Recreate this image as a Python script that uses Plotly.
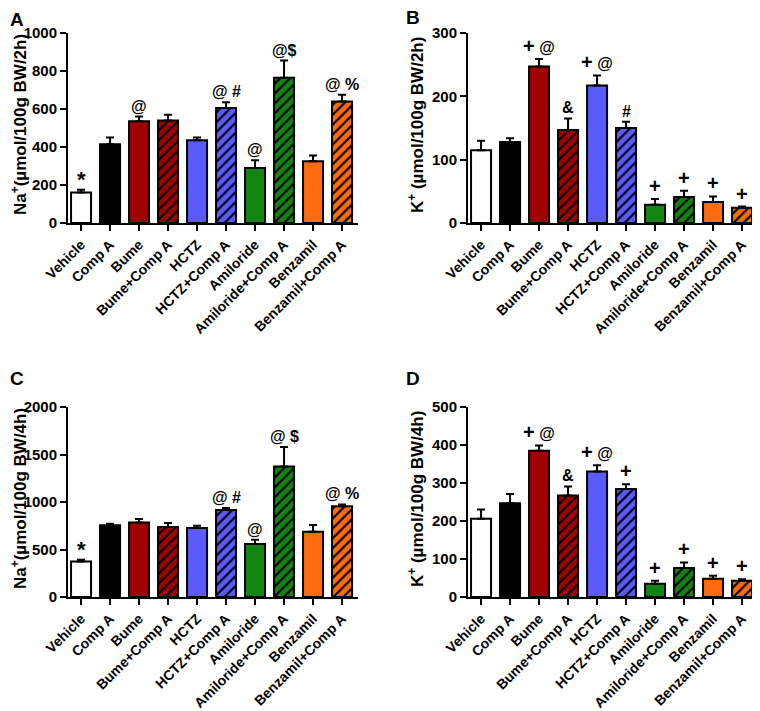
import plotly.graph_objects as go

categories = ["Vehicle", "Comp A", "Bume", "Bume+Comp A", "HCTZ", "HCTZ+Comp A",
              "Amiloride", "Amiloride+Comp A", "Benzamil", "Benzamil+Comp A"]

na_2h = [160, 415, 535, 540, 435, 605, 290, 765, 325, 640]
na_2h_sem = [15, 35, 25, 30, 15, 30, 40, 90, 30, 35]
k_2h = [115, 128, 247, 147, 217, 150, 29, 41, 33, 24]
k_2h_sem = [15, 6, 12, 18, 16, 10, 9, 10, 9, 2]
na_4h = [375, 754, 785, 737, 726, 916, 558, 1375, 687, 954]
na_4h_sem = [18, 17, 36, 42, 24, 21, 45, 204, 71, 21]
k_4h = [206, 247, 385, 267, 330, 284, 35, 76, 48, 43]
k_4h_sem = [24, 24, 14, 24, 17, 13, 8, 15, 8, 4]

sig_a = ["*", "", "@", "", "", "@ #", "@", "@$", "", "@ %"]
sig_b = ["", "", "+ @", "&", "+ @", "#", "+", "+", "+", "+"]
sig_c = ["*", "", "", "", "", "@ #", "@", "@ $", "", "@ %"]
sig_d = ["", "", "+ @", "&", "+ @", "+", "+", "+", "+", "+"]

colors = ["#ffffff", "#000000", "#a00000", "#a00000", "#5a5aff", "#5a5aff",
          "#128412", "#128412", "#ff6a0a", "#ff6a0a"]
hatch = ["", "", "", "/", "", "/", "", "/", "", "/"]

# page body has an 8px default margin; figure sized to fill the window
OFF = 8
W, H = 760 - OFF, 711 - OFF
FONT = "Arial, Liberation Sans, sans-serif"


def px_x(p):
    return (p - OFF) / W


def px_y(p):
    return (H - (p - OFF)) / H


def sym_html(s):
    return s.replace("+", '<span style="font-size:20px">+</span>')


panels = [
    dict(vals=na_2h, sem=na_2h_sem, sig=sig_a, ymax=1000, dtick=200,
         x0=68, x1=358, ytop=33, ybot=223, letter="A", lx=8, ly=19,
         title="Na<sup>+</sup>(µmol/100g BW/2h)", tx=19),
    dict(vals=k_2h, sem=k_2h_sem, sig=sig_b, ymax=300, dtick=100,
         x0=468, x1=758, ytop=33, ybot=223, letter="B", lx=404, ly=18,
         title="K<sup>+</sup> (µmol/100g BW/2h)", tx=416),
    dict(vals=na_4h, sem=na_4h_sem, sig=sig_c, ymax=2000, dtick=500,
         x0=68, x1=358, ytop=407, ybot=597, letter="C", lx=8, ly=378,
         title="Na<sup>+</sup>(µmol/100g BW/4h)", tx=19),
    dict(vals=k_4h, sem=k_4h_sem, sig=sig_d, ymax=500, dtick=100,
         x0=468, x1=758, ytop=407, ybot=597, letter="D", lx=404, ly=378,
         title="K<sup>+</sup> (µmol/100g BW/4h)", tx=416),
]

fig = go.Figure()
annotations = []
layout = {}

for i, p in enumerate(panels, start=1):
    xa = "x" if i == 1 else f"x{i}"
    ya = "y" if i == 1 else f"y{i}"
    for j, cat in enumerate(categories):
        fig.add_trace(go.Bar(
            x=[j], y=[p["vals"][j]], xaxis=xa, yaxis=ya, width=0.69,
            name=cat,
            marker=dict(color=colors[j], line=dict(color="black", width=2),
                        pattern=dict(shape=hatch[j], fillmode="replace",
                                     bgcolor=colors[j], fgcolor="#000000",
                                     fgopacity=1, size=7, solidity=0.3)),
            error_y=dict(type="data", array=[p["sem"][j]], arrayminus=[0],
                         symmetric=False, color="black", thickness=2, width=4),
            showlegend=False,
        ))
    xkey = "xaxis" if i == 1 else f"xaxis{i}"
    ykey = "yaxis" if i == 1 else f"yaxis{i}"
    layout[xkey] = dict(
        domain=[px_x(p["x0"]), px_x(p["x1"])], anchor=ya, automargin=False,
        range=[-0.45, 9.55], tickmode="array", tickvals=list(range(10)),
        ticktext=categories, tickangle=-45, ticks="outside", ticklen=6,
        tickwidth=2, tickcolor="black", showline=True, linewidth=2,
        linecolor="black", showgrid=False, zeroline=False,
        tickfont=dict(family=FONT, size=14, color="black", weight="bold"),
    )
    layout[ykey] = dict(
        domain=[px_y(p["ybot"]), px_y(p["ytop"])], anchor=xa, automargin=False,
        range=[0, p["ymax"]], dtick=p["dtick"], ticks="outside", ticklen=6,
        tickwidth=2, tickcolor="black", showline=True, linewidth=2,
        linecolor="black", showgrid=False, zeroline=False,
        tickfont=dict(family=FONT, size=15, color="black", weight="bold"),
    )
    for j, s in enumerate(p["sig"]):
        if s:
            big = s == "*"
            annotations.append(dict(
                x=j, y=p["vals"][j] + p["sem"][j], xref=xa, yref=ya,
                text=sym_html(s), showarrow=False, yanchor="bottom",
                yshift=-4 if big else 0,
                font=dict(family=FONT, size=22 if big else 16, color="black",
                          weight="bold"),
            ))
    annotations.append(dict(
        x=px_x(p["lx"]), y=px_y(p["ly"]), xref="paper", yref="paper",
        text=p["letter"], showarrow=False, xanchor="left", yanchor="middle",
        font=dict(family=FONT, size=19, color="black", weight="bold"),
    ))
    annotations.append(dict(
        x=px_x(p["tx"]), y=px_y((p["ytop"] + p["ybot"]) / 2 - 3), xref="paper",
        yref="paper", text=p["title"], textangle=-90, showarrow=False,
        xanchor="center", yanchor="middle",
        font=dict(family=FONT, size=17, color="black", weight="bold"),
    ))

fig.update_layout(
    width=W, height=H, margin=dict(l=0, r=0, t=0, b=0, autoexpand=False),
    paper_bgcolor="white", plot_bgcolor="white", barmode="overlay",
    annotations=annotations, **layout,
)

fig.write_html("out.html")
